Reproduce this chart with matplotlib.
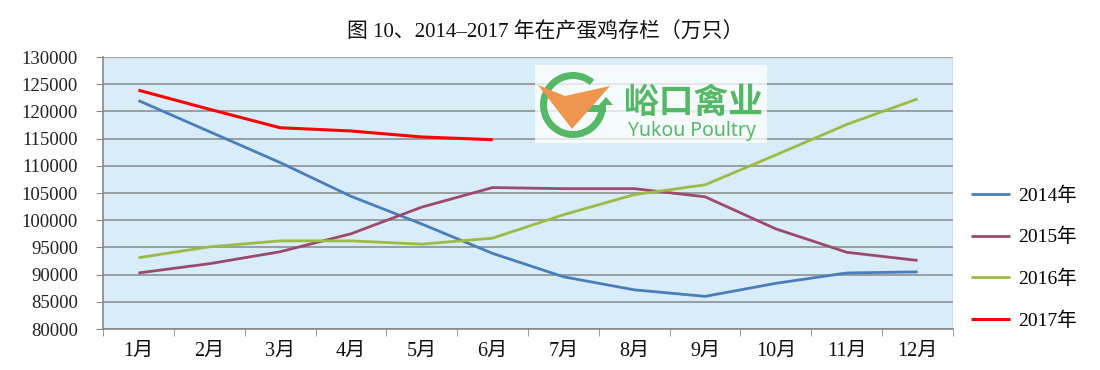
import matplotlib
matplotlib.use("Agg")
import matplotlib.pyplot as plt
from matplotlib.patches import Rectangle, Wedge, Polygon
import numpy as np

plt.rcParams['font.family'] = ['Liberation Serif', 'Noto Sans CJK SC', 'DejaVu Sans']

months = ["1月", "2月", "3月", "4月", "5月", "6月", "7月", "8月", "9月", "10月", "11月", "12月"]
y2014 = [122000, 116300, 110600, 104400, 99300, 93900, 89600, 87200, 86000, 88400, 90300, 90500]
y2015 = [90300, 92000, 94200, 97500, 102400, 106000, 105800, 105800, 104300, 98400, 94100, 92600]
y2016 = [93100, 95100, 96200, 96200, 95600, 96700, 101000, 104700, 106500, 112000, 117600, 122300]
y2017 = [123900, 120400, 117000, 116400, 115300, 114800]
series_labels = ["2014年", "2015年", "2016年", "2017年"]
colors = ["#4a7ebb", "#9c4a6b", "#9bbb44", "#ff0000"]
yticks = list(range(80000, 130001, 5000))

W, H = 1100, 370
fig = plt.figure(figsize=(W / 100, H / 100), dpi=100)
ax = fig.add_axes([103 / W, 1 - 329 / H, 850 / W, 272 / H])
ax.set_facecolor("#d8ecf9")

x = np.arange(len(months))
lines = []
for vals, c, lab in zip([y2014, y2015, y2016, y2017], colors, series_labels):
    ln, = ax.plot(x[:len(vals)], vals, color=c, lw=2.0 if c != "#ff0000" else 2.2,
                  label=lab, solid_capstyle="butt", zorder=3)
    lines.append(ln)

ax.set_xlim(-0.5, len(months) - 0.5)
ax.set_ylim(80000, 130000)
ax.set_yticks(yticks)
ax.set_yticklabels([str(v) for v in yticks], fontsize=13.5, color="#222222")
ax.yaxis.grid(True, color="#888888", lw=1.1, zorder=1)
ax.set_axisbelow(True)
ax.set_xticks(x)
ax.set_xticklabels(months, fontsize=14.5, color="#111111")
ax.tick_params(axis="x", length=0, pad=9)
ax.set_xticks(np.arange(-0.5, len(months)), minor=True)
ax.tick_params(axis="x", which="minor", length=5, color="#888888", direction="out")
ax.tick_params(axis="y", length=5, color="#888888", direction="out", pad=13)
for s in ["top", "right"]:
    ax.spines[s].set_visible(False)
for s in ["left", "bottom"]:
    ax.spines[s].set_color("#888888")
    ax.spines[s].set_linewidth(1.2)
ax.axhline(130000, color="#aaaaaa", lw=1.0, zorder=2)
ax.axvline(len(months) - 0.5, color="#aaaaaa", lw=1.0, zorder=2)

fig.text(545 / W, 1 - 33 / H, "图 10、2014–2017 年在产蛋鸡存栏（万只）",
         ha="center", va="center", fontsize=15, color="#111111")

fig.legend(handles=lines, labels=series_labels, loc="center left",
           bbox_to_anchor=(971 / W, 1 - 258 / H), frameon=False,
           fontsize=14, labelspacing=1.19, handlelength=2.0,
           handletextpad=0.4, borderpad=0, borderaxespad=0)

# watermark logo
lax = fig.add_axes([535 / W, 1 - 143 / H, 232 / W, 78 / H])
lax.set_xlim(0, 232)
lax.set_ylim(0, 78)
lax.axis("off")
lax.add_patch(Rectangle((0, 0), 232, 78, facecolor="white", alpha=0.75, edgecolor="none"))
green = "#55b865"
lax.add_patch(Wedge((38, 38), 33, 50, 360, width=7, facecolor=green, edgecolor="none"))
lax.add_patch(Polygon([(64, 38), (78, 38), (71, 46)], closed=True, facecolor=green, edgecolor="none"))
lax.add_patch(Rectangle((52, 31), 19, 7, facecolor=green, edgecolor="none"))
lax.add_patch(Polygon([(3, 58), (30, 47), (75, 57), (37, 14)], closed=True,
                      facecolor="#ee9550", edgecolor="none"))
lax.text(158, 41, "峪口禽业", ha="center", va="center", fontsize=25,
         family="Noto Sans CJK SC", fontweight="bold", color=green)
lax.text(157, 12, "Yukou Poultry", ha="center", va="center", fontsize=14,
         family="Noto Sans", color=green)

fig.savefig("out.png", dpi=100)
